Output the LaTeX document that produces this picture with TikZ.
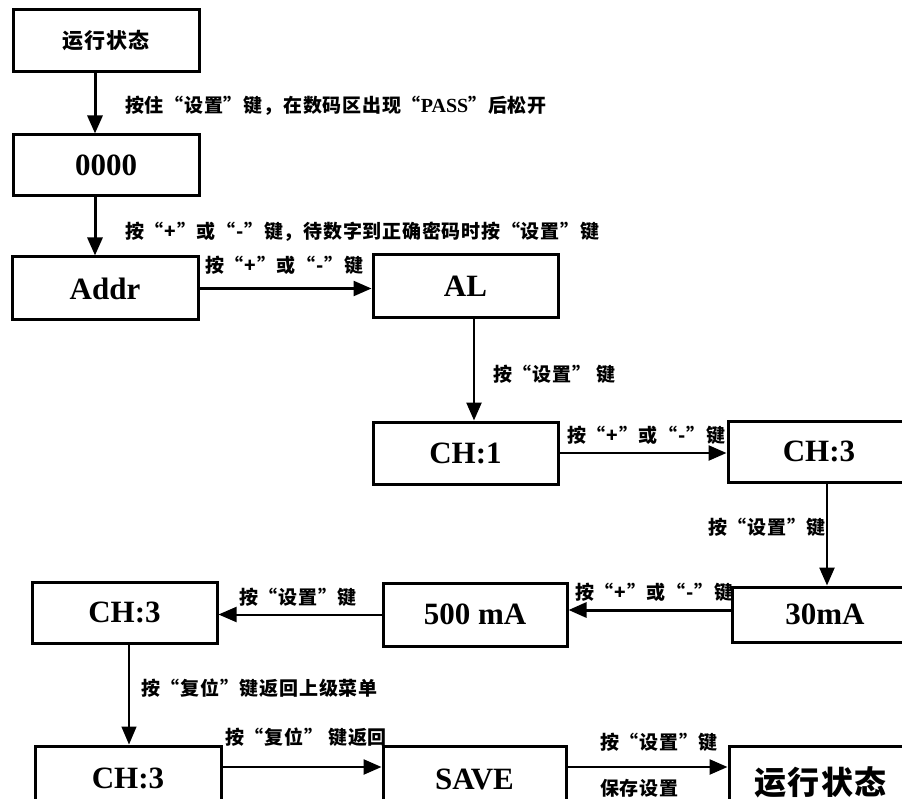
\documentclass[tikz,border=0pt]{standalone}
\usepackage{fontspec}
\setmainfont{Liberation Serif}
\newfontfamily\cjk{Noto Sans CJK SC}[LetterSpace=4]
\usetikzlibrary{arrows.meta}

\begin{document}
\begin{tikzpicture}[x=1pt,y=-1pt,
  box/.style={draw=black,line width=3pt,inner sep=0pt,font=\bfseries\fontsize{31}{33}\selectfont},
  lbl/.style={anchor=west,inner sep=0pt,font=\cjk\bfseries\fontsize{19}{21}\selectfont},
  arr/.style={-{Triangle[length=18pt,width=15pt]},line width=2.5pt}]
\useasboundingbox (0,0) rectangle (902,799);
\clip (0,0) rectangle (902,799);
% boxes
\node[box,minimum width=186pt,minimum height=62pt,font=\cjk\bfseries\fontsize{21}{23}\selectfont] (run1) at (106,41) {运行状态};
\node[box,minimum width=186pt,minimum height=61pt] (pwd) at (106,165.5) {0000};
\node[box,minimum width=186pt,minimum height=63pt] (addr) at (105,288.5) {Addr};
\node[box,minimum width=185pt,minimum height=63pt] (al) at (465.5,286.5) {AL};
\node[box,minimum width=185pt,minimum height=62pt] (ch1) at (465.5,453) {CH:1};
\node[box,minimum width=182pt,minimum height=61pt] (ch3a) at (819,451.5) {CH:3};
\node[box,minimum width=186pt,minimum height=55pt] (ma30) at (825,614.5) {30mA};
\node[box,minimum width=184pt,minimum height=63pt] (ma500) at (475,614.5) {500 mA};
\node[box,minimum width=185pt,minimum height=61pt] (ch3b) at (124.5,612.5) {CH:3};
\node[box,minimum width=186pt,minimum height=64pt] (ch3c) at (128,778) {CH:3};
\node[box,minimum width=183pt,minimum height=66pt] (save) at (474.5,779) {SAVE};
\node[box,minimum width=183pt,minimum height=72pt,font=\cjk\bfseries\fontsize{32}{34}\selectfont] (run2) at (820.5,782) {运行状态};
% connectors
\draw[arr,line width=3pt] ([xshift=-11pt]run1.south) -- ([xshift=-11pt]pwd.north);
\draw[arr,line width=3pt] ([xshift=-11pt]pwd.south) -- ([xshift=-10pt]addr.north);
\draw[arr] (addr.east) -- (addr.east -| al.west);
\draw[arr] ([xshift=8.5pt]al.south) -- ([xshift=8.5pt]al.south |- ch1.north);
\draw[arr] (ch1.east) -- (ch1.east -| ch3a.west);
\draw[arr] ([xshift=8pt]ch3a.south) -- ([xshift=8pt]ch3a.south |- ma30.north);
\draw[arr,line width=3pt] ([yshift=4.5pt]ma30.west) -- ([yshift=4.5pt]ma30.west -| ma500.east);
\draw[arr,line width=2pt] (ma500.west) -- (ma500.west -| ch3b.east);
\draw[arr,line width=1.5pt] ([xshift=4.5pt]ch3b.south) -- ([xshift=4.5pt]ch3b.south |- ch3c.north);
\draw[arr] ([yshift=11pt]ch3c.east) -- ([yshift=11pt]ch3c.east -| save.west);
\draw[arr] ([yshift=12pt]save.east) -- ([yshift=12pt]save.east -| run2.west);
% labels
\node[lbl] (l1) at (125,106) {按住“设置”键，在数码区出现“{\rmfamily\fontsize{20}{22}\selectfont PASS}”后松开};
\node[lbl] (l2) at (125,232) {按“+”或“-”键，待数字到正确密码时按“设置”键};
\node[lbl] (l3) at (205,265) {按“+”或“-”键};
\node[lbl] (l4) at (493,374) {按“设置” 键};
\node[lbl] (l5) at (567,435) {按“+”或“-”键};
\node[lbl,anchor=east] (l6) at (826,527) {按“设置”键};
\node[lbl] (l7) at (575,592) {按“+”或“-”键};
\node[lbl] (l8) at (239,597) {按“设置”键};
\node[lbl] (l9) at (141,688) {按“复位”键返回上级菜单};
\node[lbl] (l10) at (225,737) {按“复位” 键返回};
\node[lbl] (l11) at (600,742) {按“设置”键};
\node[lbl] (l12) at (600,788) {保存设置};
\end{tikzpicture}
\end{document}
